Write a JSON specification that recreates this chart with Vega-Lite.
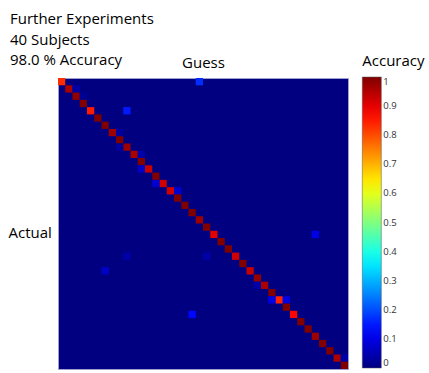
{
  "$schema": "https://vega.github.io/schema/vega-lite/v6.json",
  "width": 290,
  "height": 291,
  "autosize": {"type": "none"},
  "padding": {"left": 58, "top": 78, "right": 81, "bottom": 4},
  "background": "white",
  "title": {
    "text": ["Further Experiments", "40 Subjects", "98.0 % Accuracy"],
    "anchor": "start",
    "frame": "group",
    "orient": "top",
    "baseline": "top",
    "font": "Open Sans",
    "fontSize": 15,
    "fontWeight": "normal",
    "color": "black",
    "lineHeight": 20.3,
    "dx": -48,
    "dy": 14,
    "offset": 0
  },
  "data": {
    "values": [
      {"actual": 0, "guess": 0, "acc": 0.83}, {"actual": 0, "guess": 19, "acc": 0.17},
      {"actual": 1, "guess": 1, "acc": 0.96}, {"actual": 1, "guess": 2, "acc": 0.04},
      {"actual": 2, "guess": 2, "acc": 0.98}, {"actual": 2, "guess": 3, "acc": 0.02},
      {"actual": 3, "guess": 3, "acc": 1},
      {"actual": 4, "guess": 4, "acc": 0.85}, {"actual": 4, "guess": 9, "acc": 0.15},
      {"actual": 5, "guess": 5, "acc": 1},
      {"actual": 6, "guess": 6, "acc": 1},
      {"actual": 7, "guess": 7, "acc": 0.97}, {"actual": 7, "guess": 8, "acc": 0.03},
      {"actual": 8, "guess": 8, "acc": 1},
      {"actual": 9, "guess": 9, "acc": 0.97}, {"actual": 9, "guess": 8, "acc": 0.03},
      {"actual": 10, "guess": 10, "acc": 0.96}, {"actual": 10, "guess": 11, "acc": 0.04},
      {"actual": 11, "guess": 11, "acc": 1},
      {"actual": 12, "guess": 12, "acc": 0.93}, {"actual": 12, "guess": 11, "acc": 0.07},
      {"actual": 13, "guess": 13, "acc": 1},
      {"actual": 14, "guess": 14, "acc": 0.92}, {"actual": 14, "guess": 13, "acc": 0.08},
      {"actual": 15, "guess": 15, "acc": 0.92}, {"actual": 15, "guess": 16, "acc": 0.08},
      {"actual": 16, "guess": 16, "acc": 1},
      {"actual": 17, "guess": 17, "acc": 1},
      {"actual": 18, "guess": 18, "acc": 1},
      {"actual": 19, "guess": 19, "acc": 0.97},
      {"actual": 20, "guess": 20, "acc": 1},
      {"actual": 21, "guess": 21, "acc": 0.9}, {"actual": 21, "guess": 35, "acc": 0.1},
      {"actual": 22, "guess": 22, "acc": 1},
      {"actual": 23, "guess": 23, "acc": 1},
      {"actual": 24, "guess": 24, "acc": 0.92}, {"actual": 24, "guess": 9, "acc": 0.04}, {"actual": 24, "guess": 20, "acc": 0.04},
      {"actual": 25, "guess": 25, "acc": 1},
      {"actual": 26, "guess": 26, "acc": 0.93}, {"actual": 26, "guess": 6, "acc": 0.07},
      {"actual": 27, "guess": 27, "acc": 0.98},
      {"actual": 28, "guess": 28, "acc": 0.96}, {"actual": 28, "guess": 27, "acc": 0.04},
      {"actual": 29, "guess": 29, "acc": 1},
      {"actual": 30, "guess": 30, "acc": 0.84}, {"actual": 30, "guess": 29, "acc": 0.1}, {"actual": 30, "guess": 31, "acc": 0.1},
      {"actual": 31, "guess": 31, "acc": 1},
      {"actual": 32, "guess": 32, "acc": 0.87}, {"actual": 32, "guess": 18, "acc": 0.13},
      {"actual": 33, "guess": 33, "acc": 1},
      {"actual": 34, "guess": 34, "acc": 1},
      {"actual": 35, "guess": 35, "acc": 0.97},
      {"actual": 36, "guess": 36, "acc": 1},
      {"actual": 37, "guess": 37, "acc": 1},
      {"actual": 38, "guess": 38, "acc": 0.96}, {"actual": 38, "guess": 39, "acc": 0.04},
      {"actual": 39, "guess": 39, "acc": 1}
    ]
  },
  "mark": {"type": "rect"},
  "encoding": {
    "x": {
      "field": "guess",
      "type": "ordinal",
      "scale": {"domain": [0,1,2,3,4,5,6,7,8,9,10,11,12,13,14,15,16,17,18,19,20,21,22,23,24,25,26,27,28,29,30,31,32,33,34,35,36,37,38,39], "paddingInner": 0, "paddingOuter": 0},
      "axis": {
        "orient": "top",
        "title": "Guess",
        "labels": false,
        "ticks": false,
        "domain": false,
        "titleFont": "Open Sans",
        "titleFontSize": 15,
        "titleFontWeight": "normal",
        "titleColor": "black",
        "titleBaseline": "alphabetic",
        "titleY": -11
      }
    },
    "y": {
      "field": "actual",
      "type": "ordinal",
      "scale": {"domain": [0,1,2,3,4,5,6,7,8,9,10,11,12,13,14,15,16,17,18,19,20,21,22,23,24,25,26,27,28,29,30,31,32,33,34,35,36,37,38,39], "paddingInner": 0, "paddingOuter": 0},
      "axis": {
        "title": "Actual",
        "labels": false,
        "ticks": false,
        "domain": false,
        "titleFont": "Open Sans",
        "titleFontSize": 15,
        "titleFontWeight": "normal",
        "titleColor": "black",
        "titleAngle": 0,
        "titleAlign": "left",
        "titleBaseline": "alphabetic",
        "titleX": -50,
        "titleY": 159
      }
    },
    "color": {
      "field": "acc",
      "type": "quantitative",
      "scale": {
        "domain": [0, 0.125, 0.375, 0.625, 0.875, 1],
        "range": ["#000080", "#0000ff", "#00ffff", "#ffff00", "#ff0000", "#800000"],
        "interpolate": "rgb"
      },
      "legend": {
        "orient": "none",
        "legendX": 304.3,
        "legendY": -24,
        "direction": "vertical",
        "gradientLength": 291,
        "gradientThickness": 19,
        "gradientStrokeColor": "#555555",
        "gradientStrokeWidth": 0.5,
        "values": [0, 0.1, 0.2, 0.3, 0.4, 0.5, 0.6, 0.7, 0.8, 0.9, 1],
        "format": ".1~f",
        "title": "Accuracy",
        "titleFont": "Open Sans",
        "titleFontSize": 15,
        "titleFontWeight": "normal",
        "titleColor": "black",
        "titlePadding": 8,
        "labelFont": "Open Sans",
        "labelFontSize": 9.5,
        "labelColor": "#333333",
        "labelOffset": 2,
        "labelBaseline": "middle",
        "labelOverlap": false
      }
    }
  },
  "config": {
    "view": {"fill": "#000080", "stroke": "#a0a0d0", "strokeWidth": 1}
  }
}
